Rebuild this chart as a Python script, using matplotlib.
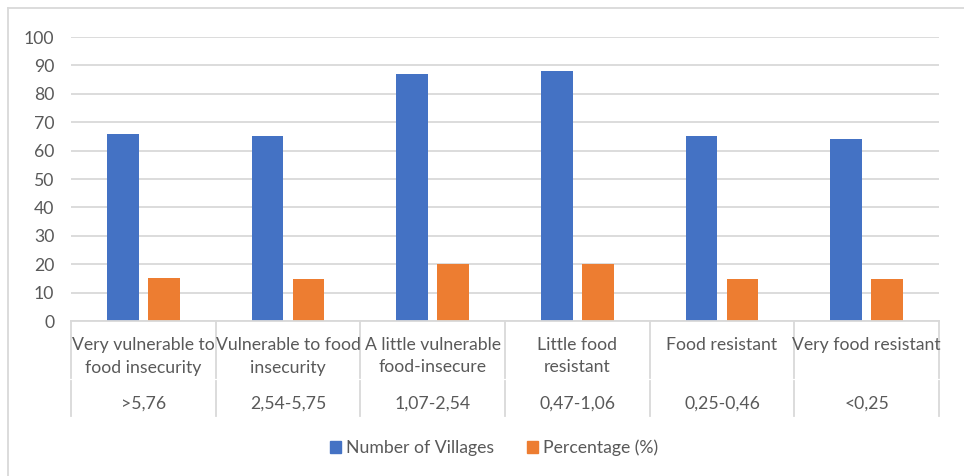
import matplotlib
matplotlib.use("Agg")
import matplotlib.pyplot as plt
from matplotlib.lines import Line2D
from matplotlib.patches import Patch

categories = [
    "Very vulnerable to\nfood insecurity",
    "Vulnerable to food\ninsecurity",
    "A little vulnerable\nfood-insecure",
    "Little food\nresistant",
    "Food resistant",
    "Very food resistant",
]
ranges = [">5,76", "2,54-5,75", "1,07-2,54", "0,47-1,06", "0,25-0,46", "<0,25"]
villages = [66, 65, 87, 88, 65, 64]
percentage = [15.17, 14.94, 20.0, 20.23, 14.94, 14.71]
yticks = [0, 10, 20, 30, 40, 50, 60, 70, 80, 90, 100]

BLUE = "#4472C4"
ORANGE = "#ED7D31"
GRID = "#D9D9D9"
TEXT = "#595959"
FONT = ["Lato", "DejaVu Sans"]
FS = 12.7

W, H = 964, 476
fig = plt.figure(figsize=(W / 100, H / 100), dpi=100)

# plot area in pixel coordinates
x0, x1 = 71, 939
y_top, y_base = 37, 321
ax = fig.add_axes([x0 / W, (H - y_base) / H, (x1 - x0) / W, (y_base - y_top) / H])

n = len(categories)
xs = list(range(n))
bw = 0.22
off = 0.142
ax.bar([x - off for x in xs], villages, width=bw, color=BLUE, zorder=3)
ax.bar([x + off for x in xs], percentage, width=bw, color=ORANGE, zorder=3)

ax.set_xlim(-0.5, n - 0.5)
ax.set_ylim(0, 100)
ax.set_yticks(yticks)
ax.set_yticklabels([str(t) for t in yticks], fontsize=FS, color=TEXT, family=FONT)
ax.tick_params(axis="y", length=0, pad=12)
ax.set_xticks([])
ax.yaxis.grid(True, color=GRID, linewidth=1.3, zorder=0)
for s in ["top", "right", "left"]:
    ax.spines[s].set_visible(False)
ax.spines["bottom"].set_color(GRID)
ax.spines["bottom"].set_linewidth(1.3)
ax.spines["bottom"].set_zorder(4)

h = y_base - y_top


def ay(px):
    return (y_base - px) / h


trans = ax.get_xaxis_transform()
# category dividers for both label levels
for i in range(n + 1):
    xb = i - 0.5
    ax.add_line(Line2D([xb, xb], [ay(321), ay(378)], transform=trans,
                       color=GRID, linewidth=1.3, clip_on=False))
    ax.add_line(Line2D([xb, xb], [ay(381), ay(416)], transform=trans,
                       color=GRID, linewidth=1.3, clip_on=False))

for i, (c, r) in enumerate(zip(categories, ranges)):
    ax.text(i, ay(337), c, transform=trans, ha="center", va="top",
            fontsize=FS, color=TEXT, family=FONT, linespacing=1.5)
    ax.text(i, ay(404), r, transform=trans, ha="center", va="center",
            fontsize=FS, color=TEXT, family=FONT)

handles = [Patch(color=BLUE, label="Number of Villages"),
           Patch(color=ORANGE, label="Percentage (%)")]
fig.legend(handles=handles, loc="center", bbox_to_anchor=(494 / W, (H - 448) / H),
           ncol=2, frameon=False, labelcolor=TEXT,
           prop={"family": FONT, "size": FS}, handlelength=0.62, handleheight=0.62,
           handletextpad=0.25, columnspacing=1.9)

# outer chart frame
fig.add_artist(Line2D([8 / W, 8 / W], [0, (H - 8) / H], color=GRID, linewidth=1.3))
fig.add_artist(Line2D([8 / W, 1], [(H - 8) / H, (H - 8) / H], color=GRID, linewidth=1.3))

fig.savefig("out.png", dpi=100)
